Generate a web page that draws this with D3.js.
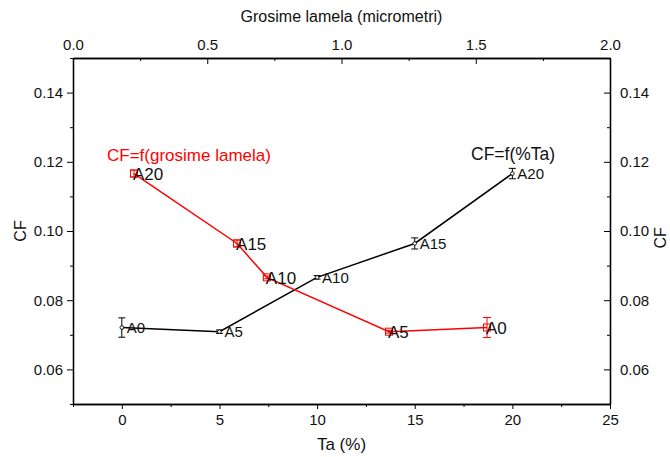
<!DOCTYPE html>
<html>
<head>
<meta charset="utf-8">
<script src="https://cdn.jsdelivr.net/npm/d3@7"></script>
<style>
  html, body { margin: 0; padding: 0; background: #fff; }
  svg { display: block; font-family: "Liberation Sans", Arial, sans-serif; }
</style>
</head>
<body>
<svg id="chart" width="670" height="457"></svg>
<script>
// Sample names (same order for both series)
const samples = ["A0", "A5", "A10", "A15", "A20"];
// Tantalum content, %
const taPercent = [0, 5, 10, 15, 20];
// Lamella thickness, micrometres
const lamella = [1.542, 1.177, 0.722, 0.611, 0.227];
// Friction coefficient and its spread
const cf = [0.0721, 0.0709, 0.0866, 0.0964, 0.1166];
const cfErrTa = [0.0028, 0.0005, 0.0005, 0.0016, 0.0015];
const cfErrLamella = [0.0029, 0.0004, 0.0004, 0.0010, 0.0010];

const bottomTicks = [0, 5, 10, 15, 20, 25];
const topTicks = [0.0, 0.5, 1.0, 1.5, 2.0];
const yTicks = [0.06, 0.08, 0.10, 0.12, 0.14];

const svg = d3.select("#chart");
const plotL = 73, plotR = 610, plotT = 58, plotB = 404;

const xTa = d3.scaleLinear().domain([-2.5, 25]).range([plotL, plotR]);
const xLam = d3.scaleLinear().domain([0, 2]).range([plotL, plotR]);
const y = d3.scaleLinear().domain([0.05, 0.15]).range([plotB, plotT]);

const fmt2 = d3.format(".2f");
const fmt1 = d3.format(".1f");
const minorY = [0.05, 0.07, 0.09, 0.11, 0.13, 0.15];
const tickFont = 15;

// Axes: bottom and left ticks point outward, top and right ticks point inward
svg.append("g").attr("transform", `translate(0,${plotB})`)
  .call(d3.axisBottom(xTa).tickValues(bottomTicks).tickSize(5).tickSizeOuter(0).tickPadding(5));
svg.append("g").attr("transform", `translate(0,${plotB})`)
  .call(d3.axisBottom(xTa).tickValues(d3.range(-2.5, 25, 5)).tickSize(3).tickSizeOuter(0).tickFormat(""));

svg.append("g").attr("transform", `translate(${plotL},0)`)
  .call(d3.axisLeft(y).tickValues(yTicks).tickFormat(fmt2).tickSize(6).tickSizeOuter(0).tickPadding(4));
svg.append("g").attr("transform", `translate(${plotL},0)`)
  .call(d3.axisLeft(y).tickValues(minorY).tickSize(3).tickSizeOuter(0).tickFormat(""));

const gTop = svg.append("g").attr("transform", `translate(0,${plotT})`)
  .call(d3.axisTop(xLam).tickValues(topTicks).tickFormat(fmt1).tickSize(-6).tickSizeOuter(0));
svg.append("g").attr("transform", `translate(0,${plotT})`)
  .call(d3.axisTop(xLam).tickValues([0.25, 0.75, 1.25, 1.75]).tickSize(-3).tickSizeOuter(0).tickFormat(""));

const gRight = svg.append("g").attr("transform", `translate(${plotR},0)`)
  .call(d3.axisRight(y).tickValues(yTicks).tickFormat(fmt2).tickSize(-6).tickSizeOuter(0));
svg.append("g").attr("transform", `translate(${plotR},0)`)
  .call(d3.axisRight(y).tickValues(minorY).tickSize(-3).tickSizeOuter(0).tickFormat(""));

svg.selectAll(".domain").attr("stroke", "#000").attr("stroke-width", 1.3);
svg.selectAll(".tick line").attr("stroke", "#000").attr("stroke-width", 1);
svg.selectAll(".tick text").attr("font-size", tickFont).attr("fill", "#111")
  .attr("font-family", "'Liberation Sans', Arial, sans-serif");
gTop.selectAll(".tick text").attr("y", -8).attr("dy", "0");
gRight.selectAll(".tick text").attr("x", 10);

// Axis titles
svg.append("text").attr("x", (plotL + plotR) / 2).attr("y", 22).attr("text-anchor", "middle")
  .attr("font-size", 16).attr("fill", "#111").text("Grosime lamela (micrometri)");
svg.append("text").attr("x", (plotL + plotR) / 2).attr("y", 450).attr("text-anchor", "middle")
  .attr("font-size", 17).attr("fill", "#111").text("Ta (%)");
svg.append("text").attr("transform", `translate(26,${y(0.10)}) rotate(-90)`).attr("text-anchor", "middle")
  .attr("font-size", 16).attr("fill", "#111").text("CF");
svg.append("text").attr("transform", `translate(666,${y(0.098)}) rotate(-90)`).attr("text-anchor", "middle")
  .attr("font-size", 16).attr("fill", "#111").text("CF");

const data = samples.map((s, i) => ({
  name: s, ta: taPercent[i], lam: lamella[i], cf: cf[i],
  errTa: cfErrTa[i], errLam: cfErrLamella[i]
}));

// CF as a function of Ta content (black)
const lineTa = d3.line().x(d => xTa(d.ta)).y(d => y(d.cf));
svg.append("path").datum(data).attr("d", lineTa)
  .attr("fill", "none").attr("stroke", "#000").attr("stroke-width", 1.5);

// CF as a function of lamella thickness (red), ordered by thickness
const lamSorted = data.slice().sort((a, b) => a.lam - b.lam);
const lineLam = d3.line().x(d => xLam(d.lam)).y(d => y(d.cf));
svg.append("path").datum(lamSorted).attr("d", lineLam)
  .attr("fill", "none").attr("stroke", "#ff0000").attr("stroke-width", 1.5);

function errorBars(xf, ef, color, cap) {
  const g = svg.append("g").attr("stroke", color).attr("stroke-width", 1);
  g.selectAll("line.v").data(data).join("line").attr("class", "v")
    .attr("x1", xf).attr("x2", xf)
    .attr("y1", d => y(d.cf - ef(d))).attr("y2", d => y(d.cf + ef(d)));
  g.selectAll("line.t").data(data).join("line").attr("class", "t")
    .attr("x1", d => xf(d) - cap).attr("x2", d => xf(d) + cap)
    .attr("y1", d => y(d.cf + ef(d))).attr("y2", d => y(d.cf + ef(d)));
  g.selectAll("line.b").data(data).join("line").attr("class", "b")
    .attr("x1", d => xf(d) - cap).attr("x2", d => xf(d) + cap)
    .attr("y1", d => y(d.cf - ef(d))).attr("y2", d => y(d.cf - ef(d)));
}

errorBars(d => xTa(d.ta), d => d.errTa, "#000", 3.5);
errorBars(d => xLam(d.lam), d => d.errLam, "#ff0000", 4);

// Markers
svg.append("g").selectAll("circle").data(data).join("circle")
  .attr("cx", d => xTa(d.ta)).attr("cy", d => y(d.cf)).attr("r", 1.8)
  .attr("fill", "#fff").attr("stroke", "#000").attr("stroke-width", 0.9);
svg.append("g").selectAll("rect").data(data).join("rect")
  .attr("x", d => xLam(d.lam) - 3.5).attr("y", d => y(d.cf) - 3.5)
  .attr("width", 7).attr("height", 7)
  .attr("fill", "none").attr("stroke", "#ff0000").attr("stroke-width", 1);

// Point labels
svg.append("g").selectAll("text").data(data).join("text")
  .attr("x", d => xTa(d.ta) + 5).attr("y", d => y(d.cf) + 5.5)
  .attr("font-size", 15).attr("fill", "#111").text(d => d.name);
svg.append("g").selectAll("text").data(data).join("text")
  .attr("x", d => xLam(d.lam) - 1).attr("y", d => y(d.cf) + 6.5)
  .attr("font-size", 17).attr("fill", "#111").text(d => d.name);

// Series captions
svg.append("text").attr("x", 107).attr("y", 161).attr("font-size", 17)
  .attr("fill", "#ff0000").text("CF=f(grosime lamela)");
svg.append("text").attr("x", 471).attr("y", 160).attr("font-size", 17.5)
  .attr("fill", "#111").text("CF=f(%Ta)");
</script>
</body>
</html>
